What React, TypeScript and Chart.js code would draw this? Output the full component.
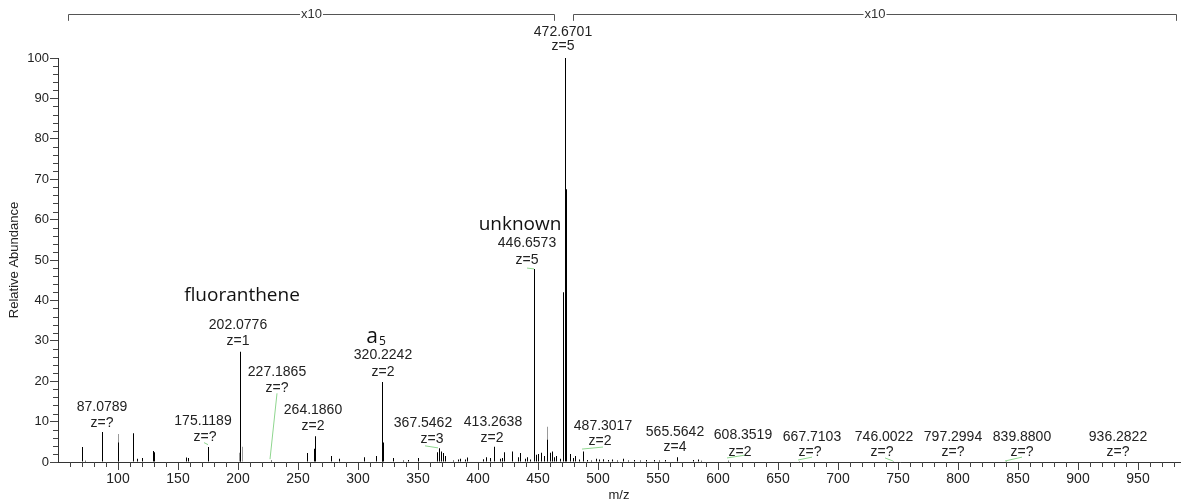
import React, { useEffect, useRef } from 'react';
import { Chart, registerables } from 'chart.js';

Chart.register(...registerables);

// ---- spectrum data (m/z, relative abundance) ----
const blackMz = [69.7, 72.5, 87.08, 99.9, 112.1, 116.0, 120.0, 129.4, 130.4, 156.3, 158.1, 175.12, 201.4, 202.08, 227.19, 257.6, 263.6, 264.19, 277.3, 284.0, 305.2, 315.1, 319.8, 320.22, 321.2, 329.1, 337.5, 342.0, 350.0, 365.9, 367.55, 368.9, 370.5, 372.2, 379.5, 383.0, 385.0, 389.0, 391.0, 404.0, 406.5, 410.0, 413.26, 418.0, 420.3, 421.8, 428.6, 433.0, 435.2, 439.0, 441.0, 443.5, 446.66, 448.2, 450.0, 452.8, 455.0, 457.5, 460.0, 461.6, 463.0, 465.0, 468.0, 470.5, 472.67, 473.6, 476.7, 479.0, 481.0, 484.0, 487.3, 490.5, 494.0, 498.0, 501.0, 504.5, 508.0, 512.0, 516.0, 521.0, 525.0, 530.0, 535.0, 540.0, 547.0, 551.0, 556.0, 565.56, 579.5, 583.0, 586.0, 608.35, 667.71, 746.0, 839.88];
const blackAb = [3.7, 0.3, 7.4, 4.8, 7.1, 0.8, 1.0, 2.7, 2.4, 1.1, 1.0, 3.7, 20.8, 27.3, 0.4, 2.2, 3.3, 6.4, 1.5, 0.8, 1.2, 1.5, 12.3, 19.8, 4.8, 1.0, 0.4, 0.5, 1.0, 2.4, 3.4, 2.6, 2.2, 1.5, 0.4, 0.6, 0.8, 0.6, 1.1, 0.7, 1.2, 1.0, 3.8, 0.8, 1.0, 2.4, 2.6, 1.2, 2.2, 0.8, 1.2, 0.6, 47.8, 1.8, 2.0, 2.3, 1.5, 5.5, 2.3, 2.6, 1.2, 1.5, 0.8, 42.0, 100, 67.5, 2.0, 1.0, 1.5, 0.6, 2.6, 0.5, 0.4, 0.8, 0.6, 0.7, 0.5, 0.6, 0.4, 0.8, 0.4, 0.5, 0.4, 0.5, 0.5, 0.4, 0.5, 1.2, 0.5, 0.6, 0.3, 0.3, 0.2, 0.2, 0.2];
const greyMz = [100.4, 200.8, 203.1, 457.9];
const greyAb = [6.9, 2.3, 3.8, 8.7];

// ---- axes ----
const xMin = 50;
const xMax = 985;
const xMajorStep = 50;
const xMinorStep = 10;
const yMin = 0;
const yMax = 100;
const yMajorStep = 10;
const yMinorStep = 2;

// ---- peak annotations ----
const peakTexts = ['87.0789', '175.1189', '202.0776', '227.1865', '264.1860', '320.2242', '367.5462', '413.2638', '446.6573', '472.6701', '487.3017', '565.5642', '608.3519', '667.7103', '746.0022', '797.2994', '839.8800', '936.2822'];
const chargeTexts = ['z=?', 'z=?', 'z=1', 'z=?', 'z=2', 'z=2', 'z=3', 'z=2', 'z=5', 'z=5', 'z=2', 'z=4', 'z=2', 'z=?', 'z=?', 'z=?', 'z=?', 'z=?'];
const peakTextMz = [86.7, 170.8, 200.0, 232.5, 262.5, 321.0, 354.2, 412.5, 440.8, 470.8, 504.0, 564.0, 620.8, 678.3, 738.3, 795.8, 853.3, 933.3];
const peakTextAb = [13.6, 10.1, 33.9, 22.3, 12.9, 26.5, 9.7, 9.9, 54.2, 106.4, 8.9, 7.4, 6.7, 6.2, 6.2, 6.2, 6.2, 6.2];
const chargeTextMz = [86.7, 172.5, 200.0, 232.5, 262.5, 321.0, 361.7, 411.7, 440.8, 470.8, 501.7, 564.0, 618.3, 676.7, 736.7, 795.8, 853.3, 933.3];
const chargeTextAb = [9.7, 6.2, 30.0, 18.3, 8.9, 22.3, 5.7, 5.9, 50.0, 103.0, 5.2, 3.7, 2.5, 2.5, 2.5, 2.5, 2.5, 2.5];

// green leader lines: [mz1, ab1, mz2, ab2]
const leaderLines = [
  [171.7, 4.8, 175.1, 4.3],
  [232.8, 17.0, 226.7, 0.7],
  [355.8, 4.0, 366.7, 3.5],
  [440.8, 48.0, 446.7, 47.8],
  [486.7, 3.2, 504.2, 3.7],
  [607.5, 1.0, 622.5, 1.7],
  [666.7, 0.5, 678.3, 1.2],
  [739.2, 1.0, 745.8, 0.25],
  [839.2, 0.25, 853.3, 1.2],
];

// compound names
const nameTexts = ['fluoranthene', 'unknown'];
const nameMz = [203.3, 435.0];
const nameAb = [41.1, 58.7];
const ionMz = 312.0;
const ionAb = 31.0;

// magnification brackets
const bracketStart = [58.3, 479.2];
const bracketEnd = [463.3, 981.7];
const bracketText = 'x10';
const bracketAb = 110.9;
const bracketTickAb = 109.2;

const LABEL_FONT = '14px "Liberation Sans", Arial, sans-serif';
const NAME_FONT = '19px "Open Sans", sans-serif';

const annotationPlugin = {
  id: 'msAnnotations',
  beforeDatasetsDraw(chart: any) {
    chart.ctx.save();
    chart.ctx.translate(0.5, 0);
  },
  afterDatasetsDraw(chart: any) {
    chart.ctx.restore();
  },
  afterDraw(chart: any) {
    const { ctx, chartArea } = chart;
    const x = chart.scales.x;
    const y = chart.scales.y;
    ctx.save();

    // minor ticks
    ctx.strokeStyle = '#444';
    ctx.lineWidth = 1;
    ctx.beginPath();
    for (let v = xMin + xMinorStep; v < xMax; v += xMinorStep) {
      if (v % xMajorStep === 0) continue;
      const px = Math.round(x.getPixelForValue(v)) + 0.5;
      ctx.moveTo(px, chartArea.bottom);
      ctx.lineTo(px, chartArea.bottom + 5);
    }
    for (let v = yMin + yMinorStep; v < yMax; v += yMinorStep) {
      if (v % yMajorStep === 0) continue;
      const py = Math.round(y.getPixelForValue(v)) + 0.5;
      ctx.moveTo(chartArea.left - 5, py);
      ctx.lineTo(chartArea.left, py);
    }
    ctx.stroke();

    // leader lines
    ctx.strokeStyle = '#8fd68f';
    ctx.beginPath();
    leaderLines.forEach(([m1, a1, m2, a2]) => {
      ctx.moveTo(x.getPixelForValue(m1), y.getPixelForValue(a1));
      ctx.lineTo(x.getPixelForValue(m2), y.getPixelForValue(a2));
    });
    ctx.stroke();

    // peak labels
    ctx.fillStyle = '#222';
    ctx.font = LABEL_FONT;
    ctx.textAlign = 'center';
    ctx.textBaseline = 'middle';
    peakTexts.forEach((t, i) => {
      ctx.fillText(t, x.getPixelForValue(peakTextMz[i]), y.getPixelForValue(peakTextAb[i]));
      ctx.fillText(chargeTexts[i], x.getPixelForValue(chargeTextMz[i]), y.getPixelForValue(chargeTextAb[i]));
    });

    // names
    ctx.fillStyle = '#111';
    ctx.font = NAME_FONT;
    nameTexts.forEach((t, i) => {
      ctx.fillText(t, x.getPixelForValue(nameMz[i]), y.getPixelForValue(nameAb[i]));
    });
    // a5
    const ax = x.getPixelForValue(ionMz);
    const ay = y.getPixelForValue(ionAb);
    ctx.font = '21px "Open Sans", sans-serif';
    ctx.textAlign = 'center';
    ctx.fillText('a', ax, ay);
    ctx.font = '12px "Open Sans", sans-serif';
    ctx.fillText('5', ax + 10.5, ay + 5);

    // brackets
    ctx.strokeStyle = '#555';
    ctx.fillStyle = '#333';
    ctx.font = '13px "Liberation Sans", Arial, sans-serif';
    ctx.textAlign = 'center';
    const by = Math.round(y.getPixelForValue(bracketAb)) + 0.5;
    const bty = y.getPixelForValue(bracketTickAb);
    bracketStart.forEach((s, i) => {
      const x1 = Math.round(x.getPixelForValue(s)) + 0.5;
      const x2 = Math.round(x.getPixelForValue(bracketEnd[i])) + 0.5;
      const cx = (x1 + x2) / 2;
      const tw = ctx.measureText(bracketText).width / 2 + 1;
      ctx.beginPath();
      ctx.moveTo(x1, bty);
      ctx.lineTo(x1, by);
      ctx.lineTo(cx - tw, by);
      ctx.moveTo(cx + tw, by);
      ctx.lineTo(x2, by);
      ctx.lineTo(x2, bty);
      ctx.stroke();
      ctx.fillText(bracketText, cx, by);
    });

    ctx.restore();
  },
};

export default function App() {
  const canvasRef = useRef<HTMLCanvasElement | null>(null);

  useEffect(() => {
    document.body.style.margin = '0';
    const canvas = canvasRef.current;
    if (!canvas) return;
    const chart = new Chart(canvas, {
      type: 'bar',
      data: {
        datasets: [
          {
            data: greyMz.map((m, i) => ({ x: m, y: greyAb[i] })),
            backgroundColor: '#9a9a9a',
            barThickness: 1,
            inflateAmount: 0,
            grouped: false,
            order: 2,
          } as any,
          {
            data: blackMz.map((m, i) => ({ x: m, y: blackAb[i] })),
            backgroundColor: '#000',
            barThickness: 1,
            inflateAmount: 0,
            grouped: false,
            order: 1,
          } as any,
        ],
      },
      options: {
        animation: false,
        responsive: false,
        layout: { padding: { top: 58, right: 2, left: 0, bottom: 0 } },
        plugins: { legend: { display: false }, tooltip: { enabled: false } },
        scales: {
          x: {
            type: 'linear',
            min: xMin,
            max: xMax,
            offset: false,
            alignToPixels: true,
            ticks: {
              stepSize: xMajorStep,
              includeBounds: false,
              autoSkip: false,
              maxRotation: 0,
              padding: 1,
              color: '#222',
              font: { family: '"Liberation Sans", Arial, sans-serif', size: 14 },
              callback: (v: any) => (v === xMin ? '' : String(v)),
            },
            grid: {
              offset: false,
              drawOnChartArea: false,
              drawTicks: true,
              tickLength: 8,
              color: (c: any) => (c.tick && c.tick.value === xMin ? 'rgba(0,0,0,0)' : '#444'),
            },
            border: { display: true, color: '#333', width: 1 },
            title: {
              display: true,
              text: 'm/z',
              color: '#222',
              font: { family: '"Liberation Sans", Arial, sans-serif', size: 13 },
              padding: { top: 0, bottom: 0 },
            },
            afterFit: (s: any) => {
              s.height = 41;
            },
          },
          y: {
            min: yMin,
            max: yMax,
            ticks: {
              stepSize: yMajorStep,
              padding: 1,
              color: '#222',
              font: { family: '"Liberation Sans", Arial, sans-serif', size: 13 },
            },
            grid: { drawOnChartArea: false, drawTicks: true, tickLength: 8, color: '#444' },
            border: { display: true, color: '#333', width: 1 },
            title: {
              display: true,
              text: 'Relative Abundance',
              color: '#222',
              font: { family: '"Liberation Sans", Arial, sans-serif', size: 13 },
              padding: { top: 7, bottom: 0 },
            },
            afterFit: (s: any) => {
              s.width = 58;
            },
          },
        },
      } as any,
      plugins: [annotationPlugin],
    });
    return () => chart.destroy();
  }, []);

  return (
    <div style={{ position: 'fixed', left: 0, top: 0, width: 1182, height: 503 }}>
      <canvas ref={canvasRef} width={1182} height={503} style={{ width: 1182, height: 503 }} />
    </div>
  );
}
